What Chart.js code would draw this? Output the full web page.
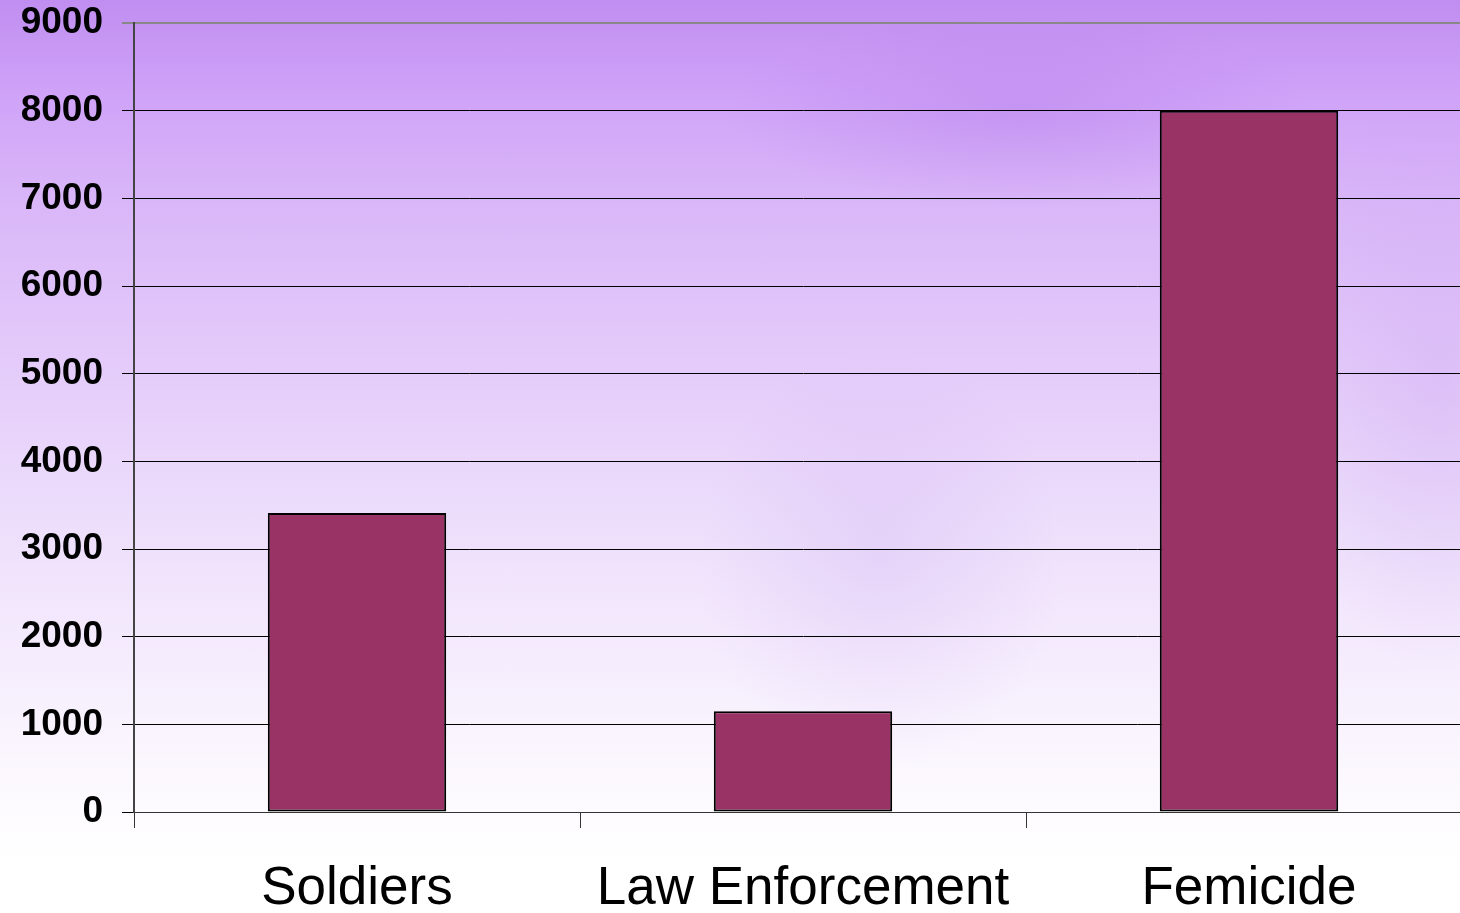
<!DOCTYPE html>
<html>
<head>
<meta charset="utf-8">
<script src="https://cdn.jsdelivr.net/npm/chart.js@4"></script>
<style>
  html, body { margin: 0; padding: 0; overflow: hidden; }
  body {
    width: 1460px; height: 913px;
    background:
      radial-gradient(ellipse 420px 140px at 1020px 110px, rgba(170,110,230,0.3), rgba(170,110,230,0) 70%),
      radial-gradient(ellipse 260px 300px at 880px 560px, rgba(200,165,240,0.25), rgba(200,165,240,0) 70%),
      radial-gradient(ellipse 220px 420px at 1440px 380px, rgba(200,160,240,0.3), rgba(200,160,240,0) 70%),
      linear-gradient(to bottom, #c08ef0 0%, #cfa2f8 10%, #d9b6f8 22%, #e3c9fa 38%, #ecdcfb 55%, #f5ecfd 72%, #fcf9fe 86%, #ffffff 95%);
  }
</style>
</head>
<body>
<canvas id="chart" width="1472" height="913"></canvas>
<script>
// values
const categories = ['Soldiers', 'Law Enforcement', 'Femicide'];
const deaths = [3410, 1150, 8000];
const yTicks = [0, 1000, 2000, 3000, 4000, 5000, 6000, 7000, 8000, 9000];

const ctx = document.getElementById('chart').getContext('2d');
new Chart(ctx, {
  type: 'bar',
  data: {
    labels: categories,
    datasets: [{
      data: deaths,
      backgroundColor: '#993366',
      borderColor: '#000000',
      borderWidth: 2,
      borderSkipped: false,
      barPercentage: 0.4,
      categoryPercentage: 1
    }]
  },
  options: {
    responsive: false,
    animation: false,
    layout: { padding: { top: 23, left: 0, right: 0, bottom: 0 } },
    plugins: { legend: { display: false }, tooltip: { enabled: false } },
    scales: {
      x: {
        afterFit: (scale) => { scale.height = 101; scale.paddingLeft = 0; scale.paddingRight = 0; },
        grid: {
          drawOnChartArea: false,
          drawTicks: true,
          tickLength: 16,
          color: '#333333',
          offset: true
        },
        border: { display: true, color: '#333333', width: 1 },
        ticks: {
          color: '#000000',
          padding: 30,
          font: { family: '"Liberation Sans", Arial, sans-serif', size: 53 },
          maxRotation: 0
        }
      },
      y: {
        min: 0,
        max: 9000,
        afterFit: (scale) => { scale.width = 134; scale.paddingTop = 0; scale.paddingBottom = 0; },
        afterBuildTicks: (scale) => { scale.ticks = yTicks.map(v => ({ value: v })); },
        grid: {
          color: (c) => c.tick && c.tick.value === 9000 ? '#888888' : '#000000',
          lineWidth: (c) => c.tick && c.tick.value === 9000 ? 2 : 1,
          tickLength: 12
        },
        border: { display: true, color: '#444444', width: 2 },
        ticks: {
          color: '#000000',
          padding: 19,
          callback: (v) => String(v),
          font: { family: '"Liberation Sans", Arial, sans-serif', size: 37, weight: 'bold' }
        }
      }
    }
  }
});
</script>
</body>
</html>
